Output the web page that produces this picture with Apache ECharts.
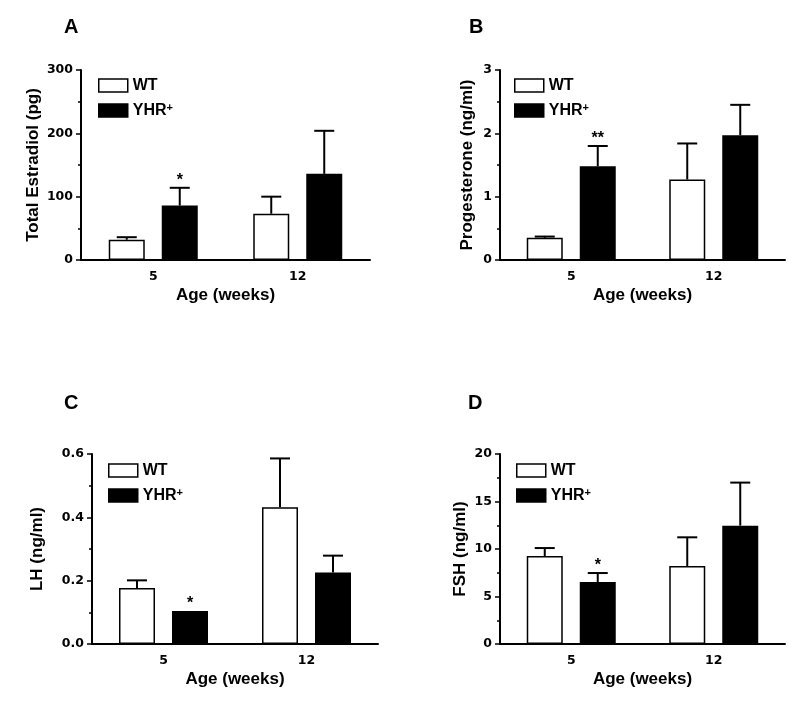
<!DOCTYPE html>
<html>
<head>
<meta charset="utf-8">
<script src="https://cdn.jsdelivr.net/npm/echarts@6/dist/echarts.min.js"></script>
<style>
html,body{margin:0;padding:0;background:#fff;}
#chart{width:800px;height:707px;}
</style>
</head>
<body>
<div id="chart"></div>
<script>
// ---------- data ----------
const categories = ['5', '12'];
const seriesNames = ['WT', 'YHR+'];

const estradiolWT = [32, 73];
const estradiolWTErr = [4, 27];
const estradiolYHR = [86, 136];
const estradiolYHRErr = [28, 68];
const estradiolSig = ['*', ''];

const progesteroneWT = [0.35, 1.27];
const progesteroneWTErr = [0.02, 0.57];
const progesteroneYHR = [1.48, 1.97];
const progesteroneYHRErr = [0.32, 0.48];
const progesteroneSig = ['**', ''];

const lhWT = [0.177, 0.432];
const lhWTErr = [0.024, 0.154];
const lhYHR = [0.104, 0.226];
const lhYHRErr = [0, 0.053];
const lhSig = ['*', ''];

const fshWT = [9.26, 8.21];
const fshWTErr = [0.84, 3.02];
const fshYHR = [6.53, 12.46];
const fshYHRErr = [0.94, 4.53];
const fshSig = ['*', ''];

const panelLabels = ['A', 'B', 'C', 'D'];
const yAxisNames = ['Total Estradiol (pg)', 'Progesterone (ng/ml)', 'LH (ng/ml)', 'FSH (ng/ml)'];
const xAxisName = 'Age (weeks)';
const yMax = [300, 3, 0.6, 20];
const yInterval = [100, 1, 0.2, 5];
const yDecimals = [0, 0, 1, 0];

// ---------- layout / style ----------
const FONT = '"Liberation Sans", Arial, sans-serif';
const TICK_FONT = '"DejaVu Sans", "Liberation Sans", sans-serif';
const BAR_W = 36;
const BAR_GAP_PX = 17;
const OFFSET = (BAR_W + BAR_GAP_PX) / 2;

const grids = [
  { left: 81, top: 70, right: 430, bottom: 447 },
  { left: 500, top: 70, right: 15, bottom: 447 },
  { left: 92, top: 454, right: 422, bottom: 63 },
  { left: 500, top: 454, right: 15, bottom: 63 }
];
const nameGaps = [39, 24, 46, 31];
const legendPos = [
  { left: 98, top: 78 }, { left: 514, top: 78 },
  { left: 108, top: 463 }, { left: 516, top: 463 }
];
const titlePos = [
  { left: 64, top: 17 }, { left: 469, top: 17 },
  { left: 64, top: 393 }, { left: 468, top: 393 }
];

const panels = [
  { wt: estradiolWT, wtErr: estradiolWTErr, yhr: estradiolYHR, yhrErr: estradiolYHRErr, sig: estradiolSig },
  { wt: progesteroneWT, wtErr: progesteroneWTErr, yhr: progesteroneYHR, yhrErr: progesteroneYHRErr, sig: progesteroneSig },
  { wt: lhWT, wtErr: lhWTErr, yhr: lhYHR, yhrErr: lhYHRErr, sig: lhSig },
  { wt: fshWT, wtErr: fshWTErr, yhr: fshYHR, yhrErr: fshYHRErr, sig: fshSig }
];

function errorSeries(idx, means, errs, sigs, offset) {
  return {
    type: 'custom',
    name: 'err' + idx + '_' + offset,
    xAxisIndex: idx,
    yAxisIndex: idx,
    z: 5,
    clip: false,
    silent: true,
    data: means.map((m, i) => [i, m, errs[i]]),
    renderItem: function (params, api) {
      const ci = api.value(0), m = api.value(1), e = api.value(2);
      const base = api.coord([ci, m]);
      const top = api.coord([ci, m + e]);
      const x = base[0] + offset;
      const children = [];
      if (e > 0) {
        children.push({ type: 'line', shape: { x1: x, y1: base[1], x2: x, y2: top[1] },
          style: { stroke: '#000', lineWidth: 2 } });
        children.push({ type: 'line', shape: { x1: x - 10, y1: top[1], x2: x + 10, y2: top[1] },
          style: { stroke: '#000', lineWidth: 2 } });
      }
      const s = sigs ? sigs[params.dataIndex] : '';
      if (s) {
        children.push({ type: 'text', x: x, y: top[1] - 7,
          style: { text: s, fill: '#000', font: 'bold 16px ' + FONT, align: 'center', verticalAlign: 'middle' } });
      }
      return { type: 'group', children: children };
    }
  };
}

const option = {
  animation: false,
  backgroundColor: '#fff',
  title: panelLabels.map((t, i) => ({
    text: t, left: titlePos[i].left, top: titlePos[i].top, padding: 0,
    textStyle: { fontSize: 20, fontWeight: 'bold', fontFamily: FONT, color: '#000' }
  })),
  legend: legendPos.map((p) => ({
    left: p.left, top: p.top, orient: 'vertical', padding: 0,
    itemWidth: 29, itemHeight: 13, itemGap: 8, selectedMode: false,
    data: [
      { name: 'WT', icon: 'rect', itemStyle: { color: '#fff', borderColor: '#000', borderWidth: 1.5 } },
      { name: 'YHR+', icon: 'rect', itemStyle: { color: '#000', borderColor: '#000', borderWidth: 1.5 } }
    ],
    formatter: (n) => n === 'YHR+' ? '{b|YHR}{s|+}' : '{b|WT}',
    textStyle: {
      color: '#000', fontFamily: FONT, fontWeight: 'bold', fontSize: 16,
      rich: {
        b: { fontSize: 16, fontWeight: 'bold', fontFamily: FONT, color: '#000', lineHeight: 17, verticalAlign: 'bottom' },
        s: { fontSize: 11, fontWeight: 'bold', fontFamily: FONT, color: '#000', lineHeight: 10, verticalAlign: 'top' }
      }
    }
  })),
  grid: grids.map(g => Object.assign({ containLabel: false }, g)),
  xAxis: grids.map((g, i) => ({
    type: 'category', gridIndex: i, data: categories,
    name: xAxisName, nameLocation: 'middle', nameGap: 27,
    nameTextStyle: { fontSize: 17, fontWeight: 'bold', fontFamily: FONT, color: '#000' },
    axisLine: { lineStyle: { color: '#000', width: 2 } },
    axisTick: { show: false },
    axisLabel: { margin: 10, fontSize: 12.5, fontWeight: 'bold', fontFamily: TICK_FONT, color: '#000' },
    splitLine: { show: false }
  })),
  yAxis: grids.map((g, i) => ({
    type: 'value', gridIndex: i, min: 0, max: yMax[i], interval: yInterval[i],
    name: yAxisNames[i], nameLocation: 'middle', nameGap: nameGaps[i], nameRotate: 90,
    nameTextStyle: { fontSize: 17, fontWeight: 'bold', fontFamily: FONT, color: '#000' },
    axisLine: { show: true, lineStyle: { color: '#000', width: 2 } },
    axisTick: { show: true, length: 5, lineStyle: { color: '#000', width: 1.5 } },
    minorTick: { show: true, splitNumber: 2, length: 3, lineStyle: { color: '#000', width: 1.5 } },
    axisLabel: { margin: 8, fontSize: 12.5, fontWeight: 'bold', fontFamily: TICK_FONT, color: '#000',
      formatter: (v) => v.toFixed(yDecimals[i]) },
    splitLine: { show: false }
  })),
  series: []
};

panels.forEach((p, i) => {
  option.series.push({
    type: 'bar', name: 'WT', xAxisIndex: i, yAxisIndex: i, data: p.wt,
    barWidth: BAR_W, barGap: (BAR_GAP_PX / BAR_W * 100) + '%',
    itemStyle: { color: '#fff', borderColor: '#000', borderWidth: 1.5 }
  });
  option.series.push({
    type: 'bar', name: 'YHR+', xAxisIndex: i, yAxisIndex: i, data: p.yhr,
    barWidth: BAR_W, barGap: (BAR_GAP_PX / BAR_W * 100) + '%',
    itemStyle: { color: '#000', borderColor: '#000', borderWidth: 1.5 }
  });
  option.series.push(errorSeries(i, p.wt, p.wtErr, null, -OFFSET));
  option.series.push(errorSeries(i, p.yhr, p.yhrErr, p.sig, OFFSET));
});

const chart = echarts.init(document.getElementById('chart'), null, { renderer: 'canvas' });
chart.setOption(option);
</script>
</body>
</html>
